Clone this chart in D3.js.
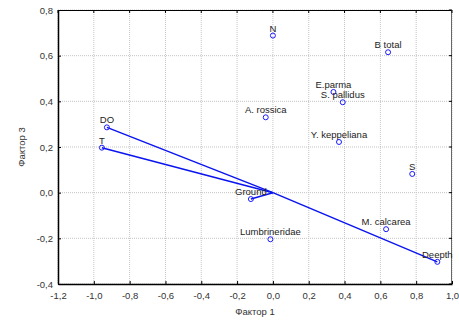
<!DOCTYPE html>
<html>
<head>
<meta charset="utf-8">
<script src="https://cdn.jsdelivr.net/npm/d3@7"></script>
<style>
  body { margin: 0; background: #fff; }
  text { font-family: "Liberation Sans", Arial, sans-serif; }
</style>
</head>
<body>
<svg width="459" height="320"></svg>
<script>
// variable names and factor loadings (Фактор 1, Фактор 3)
const names = ["N", "B total", "E.parma", "S. pallidus", "A. rossica", "Y. keppeliana",
               "DO", "T", "S", "Ground", "Lumbrineridae", "M. calcarea", "Deepth"];
const factor1 = [0.00, 0.643, 0.338, 0.39, -0.04, 0.369, -0.927, -0.955, 0.778, -0.123, -0.014, 0.632, 0.918];
const factor3 = [0.688, 0.615, 0.441, 0.396, 0.33, 0.222, 0.286, 0.197, 0.082, -0.028, -0.204, -0.16, -0.303];
// vectors drawn from origin
const vectors = ["DO", "T", "Ground", "Deepth"];

const xTicks = [-1.2, -1.0, -0.8, -0.6, -0.4, -0.2, 0.0, 0.2, 0.4, 0.6, 0.8, 1.0];
const yTicks = [-0.4, -0.2, 0.0, 0.2, 0.4, 0.6, 0.8];

const svg = d3.select("svg");
const margin = { top: 10, right: 7, bottom: 36, left: 58 };
const width = 459 - margin.left - margin.right;
const height = 320 - margin.top - margin.bottom;

const x = d3.scaleLinear().domain([-1.2, 1.0]).range([0, width]);
const y = d3.scaleLinear().domain([-0.4, 0.8]).range([height, 0]);

const fmt = v => d3.format(".1f")(v).replace(".", ",").replace("\u2212", "-");

const g = svg.append("g").attr("transform", `translate(${margin.left},${margin.top})`);

// grid
g.append("g").selectAll("line").data(xTicks).join("line")
  .attr("x1", d => x(d)).attr("x2", d => x(d))
  .attr("y1", 0).attr("y2", height)
  .attr("stroke", "#c4c4c4").attr("stroke-dasharray", "1,1");
g.append("g").selectAll("line").data(yTicks).join("line")
  .attr("x1", 0).attr("x2", width)
  .attr("y1", d => y(d)).attr("y2", d => y(d))
  .attr("stroke", "#c4c4c4").attr("stroke-dasharray", "1,1");

// frame top/right
g.append("line").attr("x1", 0).attr("x2", width).attr("y1", 0.5).attr("y2", 0.5).attr("stroke", "#000");
g.append("line").attr("x1", width - 0.5).attr("x2", width - 0.5).attr("y1", 0).attr("y2", height).attr("stroke", "#666");
// inward ticks on top and right
g.append("g").selectAll("line").data(xTicks).join("line")
  .attr("x1", d => x(d)).attr("x2", d => x(d)).attr("y1", 0).attr("y2", 3).attr("stroke", "#000");
g.append("g").selectAll("line").data(yTicks).join("line")
  .attr("x1", width).attr("x2", width - 3).attr("y1", d => y(d)).attr("y2", d => y(d)).attr("stroke", "#000");

const xAxis = g.append("g")
  .attr("transform", `translate(0,${height})`)
  .call(d3.axisBottom(x).tickValues(xTicks).tickFormat(fmt).tickSize(-3).tickSizeOuter(0).tickPadding(8));
const yAxis = g.append("g")
  .call(d3.axisLeft(y).tickValues(yTicks).tickFormat(fmt).tickSize(-3).tickSizeOuter(0).tickPadding(5));

[xAxis, yAxis].forEach(a => {
  a.select(".domain").attr("stroke-width", 1.5);
  a.selectAll("text").attr("font-size", "9.5px").attr("fill", "#333")
    .attr("font-family", "Liberation Sans, Arial, sans-serif");
});

// axis titles
svg.append("text")
  .attr("x", margin.left + width / 2).attr("y", 315)
  .attr("text-anchor", "middle").attr("font-size", "9.5px").attr("fill", "#333")
  .text("Фактор 1");
svg.append("text")
  .attr("transform", `translate(25,${margin.top + height / 2}) rotate(-90)`)
  .attr("text-anchor", "middle").attr("font-size", "9.5px").attr("fill", "#333")
  .text("Фактор 3");

const pts = names.map((n, i) => ({ name: n, f1: factor1[i], f3: factor3[i] }));

// vectors
g.append("g").selectAll("line").data(pts.filter(d => vectors.includes(d.name))).join("line")
  .attr("x1", x(0)).attr("y1", y(0))
  .attr("x2", d => x(d.f1)).attr("y2", d => y(d.f3))
  .attr("stroke", "#0a14f0").attr("stroke-width", 1.5);

// points
g.append("g").selectAll("circle").data(pts).join("circle")
  .attr("cx", d => x(d.f1)).attr("cy", d => y(d.f3)).attr("r", 2.5)
  .attr("fill", "none").attr("stroke", "#1a1aff").attr("stroke-width", 1);

// labels
g.append("g").selectAll("text").data(pts).join("text")
  .attr("x", d => x(d.f1)).attr("y", d => y(d.f3) - 4)
  .attr("text-anchor", "middle").attr("font-size", "9.5px").attr("fill", "#222")
  .text(d => d.name);
</script>
</body>
</html>
